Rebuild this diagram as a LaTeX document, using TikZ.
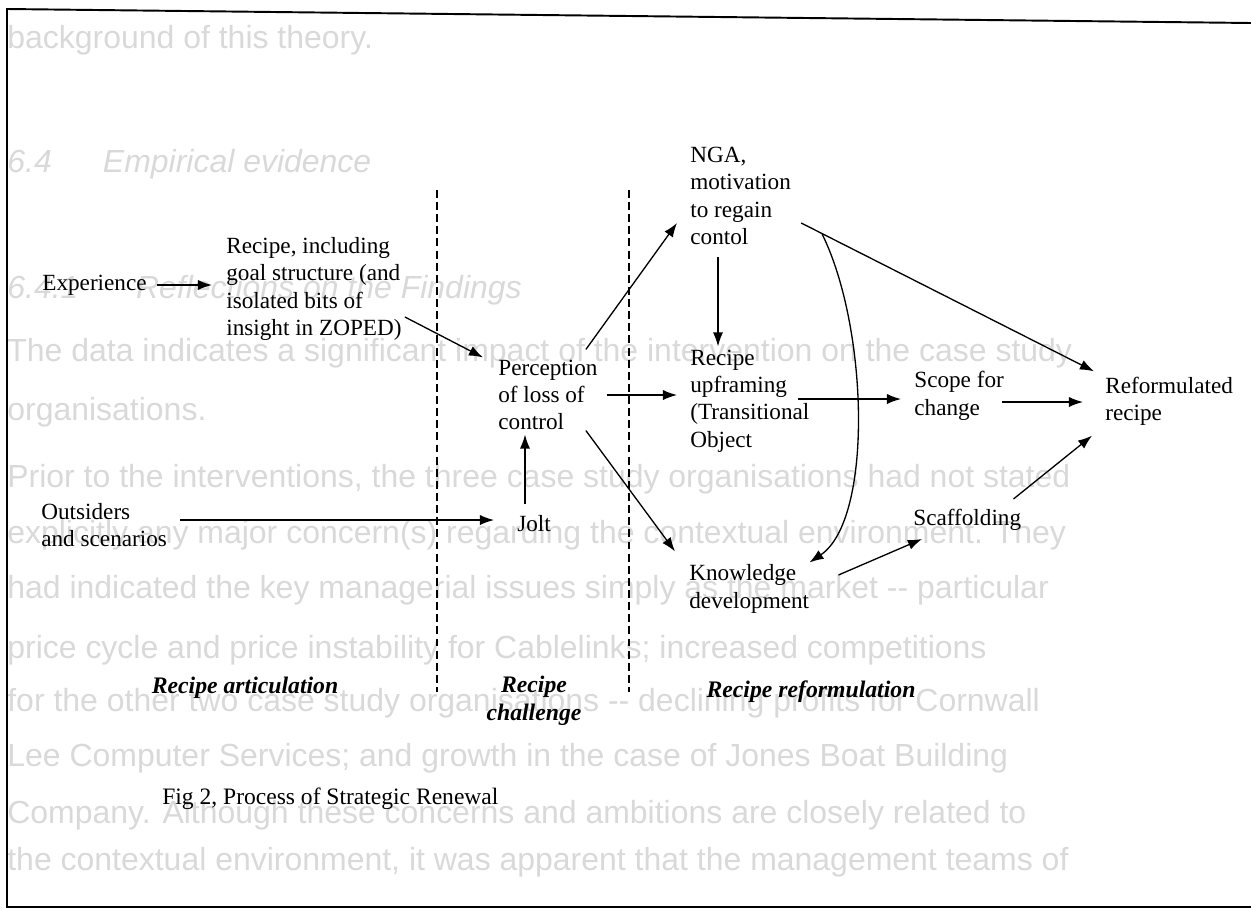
\documentclass[tikz,border=0pt]{standalone}
\usepackage{fontspec}
\setmainfont{Liberation Serif}
\newfontfamily\pagefont{Liberation Sans}
\usetikzlibrary{arrows.meta, calc}

\begin{document}
\begin{tikzpicture}[
  x=0.02cm, y=-0.02cm,
  txt/.style={anchor=west, align=left, inner sep=0pt,
              font=\fontsize{13.2}{15.6}\selectfont},
  phase/.style={align=center, inner sep=0pt,
                font=\fontsize{13.5}{15.9}\selectfont\bfseries\itshape},
  pagetxt/.style={anchor=west, inner sep=0pt, text=black!15,
                  font=\pagefont\fontsize{18.2}{22}\selectfont},
  arrow/.style={-{Latex[length=8pt,width=5.8pt]}, line width=0.75pt},
  divider/.style={dashed, dash pattern=on 4.5pt off 2.4pt, line width=0.7pt}
]
\useasboundingbox (0,0) rectangle (1251,910);

%% ---- page text showing through (grey) ----
\node[pagetxt] (pg0)  at (7,40)  {background of this theory.};
\node[pagetxt] (pg1)  at (7,164) {\itshape 6.4\hspace{1.6em}Empirical evidence};
\node[pagetxt] (pg2)  at (7,290) {\itshape 6.4.1\hspace{1.8em}Reflections on the Findings};
\node[pagetxt] (pg3)  at (7,353) {The data indicates a significant impact of the intervention on the case study};
\node[pagetxt] (pg4)  at (7,412) {organisations.};
\node[pagetxt] (pg5)  at (7,479) {Prior to the interventions, the three case study organisations had not stated};
\node[pagetxt] (pg6)  at (7,535) {explicitly any major concern(s) regarding the contextual environment. They};
\node[pagetxt] (pg7)  at (7,590) {had indicated the key managerial issues simply as the market -- particular};
\node[pagetxt] (pg8)  at (7,650) {price cycle and price instability for Cablelinks; increased competitions};
\node[pagetxt] (pg9)  at (7,703) {for the other two case study organisations -- declining profits for Cornwall};
\node[pagetxt] (pg10) at (7,758) {Lee Computer Services; and growth in the case of Jones Boat Building};
\node[pagetxt] (pg11) at (7,815) {Company. Although these concerns and ambitions are closely related to};
\node[pagetxt] (pg12) at (7,862) {the contextual environment, it was apparent that the management teams of};

%% ---- frame ----
\draw[line width=1.1pt] (1251,23) -- (7,9) -- (7,907) -- (1251,907);

%% ---- phase dividers ----
\draw[divider] (437,190) -- (437,692);
\draw[divider] (629,190) -- (629,692);

%% ---- RECIPE ARTICULATION ----
\node[txt] (exp)  at (42,285)  {Experience};
\node[txt] (rec)  at (226,289) {Recipe, including\\goal structure (and\\isolated bits of\\insight in ZOPED)};
\node[txt] (out)  at (41,525)  {Outsiders\\and scenarios};

%% ---- RECIPE CHALLENGE ----
\node[txt] (per)  at (498,395) {Perception\\of loss of\\control};
\node[txt] (jolt) at (517,524) {Jolt};

%% ---- RECIPE REFORMULATION ----
\node[txt] (nga)    at (690,196)  {NGA,\\motivation\\to regain\\contol};
\node[txt] (upf)    at (690,401)  {Recipe\\upframing\\(Transitional\\Object};
\node[txt] (kno)    at (689,589)  {Knowledge\\development};
\node[txt] (scope)  at (914,396)  {Scope for\\change};
\node[txt] (scaf)   at (913,520)  {Scaffolding};
\node[txt] (reform) at (1105,401) {Reformulated\\recipe};

%% ---- phase labels and caption ----
\node[phase] (art)  at (245,688) {Recipe articulation};
\node[phase] (chal) at (534,701) {Recipe\\challenge};
\node[phase] (refo) at (811,692) {Recipe reformulation};
\node[txt, font=\fontsize{13.4}{15.8}\selectfont] (cap) at (162,799) {Fig 2, Process of Strategic Renewal};

%% ---- Arrows ----
\draw[arrow] ($(exp.east)+(10,0)$) -- ($(exp.east -| rec.west)+(-14,0)$);
\draw[arrow] ($(rec.east)+(3,28)$) -- ($(per.north west)+(-15,-2)$);
\draw[arrow] ($(per.north east)+(-12,-10)$) -- ($(nga.west)+(-13,27)$);
\draw[arrow] ($(per.east)+(9,0)$) -- ($(per.east -| upf.west)+(-13,0)$);
\draw[arrow] ($(per.south east)+(-12,0)$) -- ($(kno.north west)+(-14,-13)$);
\draw[arrow] ($(jolt.north west)+(8,-11)$) -- ($(jolt.north west |- per.south)+(8,4)$);
\draw[arrow] ($(out.east)+(13,-5)$) -- ($(jolt.west)+(-23,-4)$);
\draw[arrow] ($(nga.south west)+(28,12)$) -- ($(upf.north west)+(28,-3)$);
\draw[arrow] ($(nga.east)+(10,27)$) -- ($(reform.north west)+(-11,-5)$);
\draw[arrow] ($(upf.east)+(-12,-2)$) -- ($(upf.east -| scope.west)+(-13,-2)$);
\draw[arrow] ($(scope.east)+(-2,6)$) -- ($(scope.east -| reform.west)+(-22,6)$);
\draw[arrow] ($(scaf.north east)+(-8,-10)$) -- ($(reform.south west)+(-13,10)$);
\draw[arrow] ($(kno.east)+(29,-14)$) -- ($(scaf.south west)+(9,8)$);
\draw[arrow] ($(nga.south east)+(31,-11)$) .. controls +(46,93) and +(64,-43) .. ($(kno.north east)+(0,-2)$);
\end{tikzpicture}
\end{document}
